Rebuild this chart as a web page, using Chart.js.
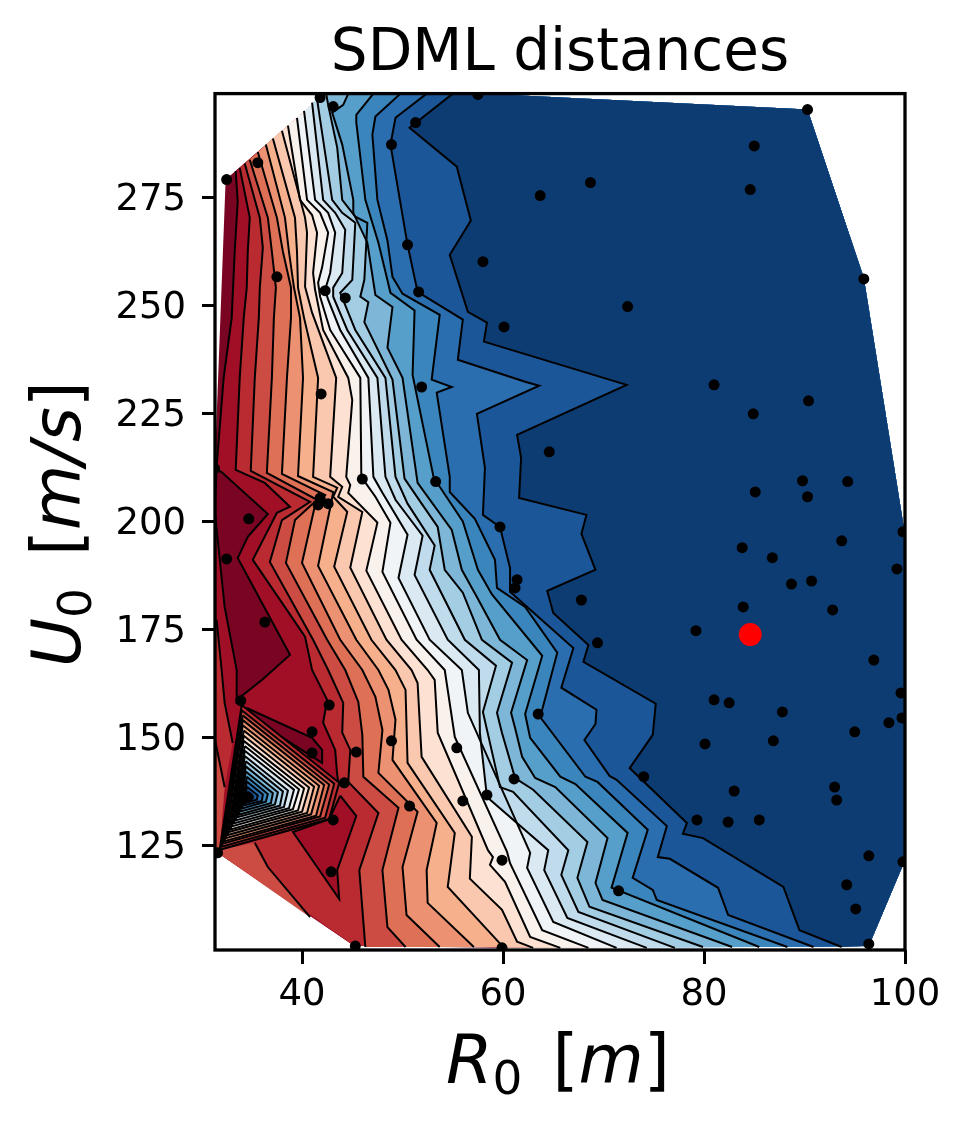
<!DOCTYPE html>
<html>
<head>
<meta charset="utf-8">
<title>SDML distances</title>
<script src="https://cdn.jsdelivr.net/npm/chart.js@4/dist/chart.umd.min.js"></script>
<style>
  html, body { margin: 0; padding: 0; background: #fff; }
  canvas { display: block; }
</style>
</head>
<body>
<canvas id="chart" width="969" height="1131"></canvas>
<script>
// Tick labels
const xTicks = [40, 60, 80, 100];
const yTicks = [125, 150, 175, 200, 225, 250, 275];

// Sampled runs, R0 and U0
const runR0 = [41.8,43.1,51.3,57.5,90.3,48.9,85.0,84.6,63.7,68.7,32.5,35.6,50.5,58.0,37.5,95.9,42.3,44.3,51.6,72.4,60.1,81.0,51.9,41.9,90.4,84.9,64.6,46.0,53.3,85.1,89.8,94.3,90.3,59.7,41.8,41.6,42.6,34.7,31.3,32.5,83.8,86.8,93.7,99.8,99.2,90.7,88.7,61.4,61.2,67.8,83.9,92.8,79.2,69.4,36.3,96.9,81.0,82.5,87.8,99.6,99.7,98.4,95.0,63.5,80.1,86.9,33.9,42.7,41.0,41.0,45.4,48.9,55.4,74.0,61.1,58.4,56.0,83.0,93.0,93.2,44.2,50.7,34.6,43.1,79.3,82.4,85.5,96.4,99.8,59.9,71.5,94.2,95.1,96.4,59.9,45.3,31.6,42.9];
const runU0 = [298.2,296.1,292.4,298.9,295.4,287.3,287.0,276.9,275.5,278.5,279.2,283.1,264.1,260.2,256.7,256.2,253.5,251.8,253.2,249.8,245.1,231.7,231.2,229.6,228.0,225.0,216.2,209.9,209.3,206.9,209.5,209.3,205.8,198.8,205.5,203.9,204.2,200.7,212.3,191.4,194.0,191.7,195.6,197.7,189.1,186.3,185.6,186.6,184.7,181.9,180.3,179.6,174.8,172.0,176.8,168.0,158.8,158.1,156.0,160.4,154.6,153.5,151.4,155.5,148.6,149.3,158.6,157.6,151.4,146.5,146.7,149.3,147.7,141.0,140.5,136.8,135.4,137.7,138.6,135.6,139.6,134.2,136.3,131.0,131.0,130.5,131.0,122.7,121.3,121.7,114.6,116.0,110.4,102.3,101.4,101.8,123.4,119.0];
const targetR0 = [84.6];
const targetU0 = [173.9];

// Colours of the filled bands, low to high
const bandColors = ['#7a0522','#a10f26','#b92b30','#cc4b43','#de7056','#ec9272','#f6b08c','#fac8ae','#fde1d2','#f8f1ec','#f0f4f6','#dae9f2','#c0dcec','#a3cde3','#7db6d7','#569fca','#3a85bc','#2b6eb0','#1b5698','#0c3c72'];

// Outline of the sampled region
const hull = [[32.4,279.2],[42.3,299.1],[57.7,299.1],[90.3,295.4],[95.9,256.5],[100,197],[100,121.7],[96.4,101.8],[59.9,101.4],[45.2,101.8],[31.6,123.4],[31.3,123.6],[31.3,212]];
const rimRight = [[96.4,101.8],[100,121.7],[100,197],[95.9,256.5],[90.3,295.4],[57.7,299.1],[42.3,299.1]];

// Contour lines, each as [R0, U0] from top to bottom
const line1 = [[33.4,281.2],[33.6,274.1],[33.3,262.5],[33.0,247.2],[32.2,233.3],[31.5,212.7]];
const line2 = [[33.8,281.9],[34.8,270.4],[34.6,262.5],[34.5,254.2],[34.2,247.2],[33.8,233.3],[33.4,212],[36.3,209],[38.8,203.5],[37.5,202.1],[35.1,191.2],[40.3,173.4],[41,165.7],[42.5,158.8],[42.1,153.5],[43.3,147.2],[43.5,141.4],[43.6,139.8]];
const line3 = [[34.3,282.9],[35.8,270.4],[36.1,263.4],[35.8,254.2],[35.7,247.2],[35.3,233.3],[34.9,211.8],[40.8,204.6],[38,200.4],[36.8,190.7],[41.1,172.7],[42.6,165.7],[44.1,158.1],[44,151.2],[44.8,147.2],[44.6,139.8],[47.6,132.6],[45.7,119.4],[46.3,101.6]];
const line4 = [[34.8,283.8],[36.6,270.4],[37,262.5],[37.4,254.2],[37.2,247.2],[37,233.3],[36.5,211.3],[41.5,205.1],[39.3,200.4],[38.4,190.5],[42.5,172.7],[44.3,165.7],[45.6,158.3],[46,150.7],[46.1,141],[49.6,133.8],[48,119.4],[48.5,106.2],[50.3,101.6]];
const line5 = [[35.6,285.6],[37.5,270.4],[38.1,262.5],[38.9,254.2],[38.9,247.2],[38.5,233.3],[38,211.1],[42.3,206.2],[41.3,203.9],[40,190.5],[43.8,172.7],[46,165.7],[47.3,159.5],[48,151.8],[47.6,141.9],[51.5,132.9],[50,120.1],[50.4,109],[53.7,101.6]];
const line6 = [[36.4,287.3],[38.3,270.4],[38.7,262.5],[39.2,254.2],[39.8,247.2],[40.1,233.3],[39.6,210.6],[43.1,206.9],[42.8,203.2],[41.6,189.8],[45.4,172.7],[47.6,165.7],[48.6,161.1],[49.3,154.2],[49,144.9],[53.4,130.3],[52.4,119.4],[52.5,111.8],[57.1,101.6]];
const line7 = [[37.1,288.7],[39.3,270.4],[39.5,262.5],[39.6,254.2],[40.2,247.2],[41.6,233.3],[41.1,210.4],[43.5,207.9],[43.1,205.8],[44.5,202.3],[43.2,189.6],[46.9,172.7],[49.3,165.7],[50.3,161.1],[50.5,144.2],[55.2,128],[54.5,115.5],[60.1,101.4]];
const line8 = [[38,290.5],[40.3,270.4],[40.5,266.9],[40.3,254.4],[41,248.4],[43.4,233.3],[42.8,210.4],[44,208.1],[43.6,205.8],[46,202.3],[44.8,189.4],[48.4,172.7],[50.9,165.7],[51.5,162.7],[51.9,145.6],[56.9,127.1],[56.7,117.4],[59.9,110.2],[61.4,102.8],[63,101.4]];
const line9 = [[38.6,291.7],[39.8,274.5],[41,271],[41.5,266.9],[41.1,257.6],[41.3,253.7],[42.1,244.4],[44.6,233.3],[45,228.2],[44.4,210.4],[44.8,208.5],[44.6,206.7],[47.5,199.8],[46.4,188.7],[49.9,172.7],[52.5,165.7],[53.2,163.4],[53.5,151.2],[58.5,124],[59,122.4],[58.7,120.6],[60.2,116.7],[62.7,103.9],[65.7,101.4]];
const line10 = [[39.5,293.5],[40.5,274.5],[41.8,271.5],[42.6,266.9],[42,258.9],[41.6,255.3],[41.8,252.1],[42.8,244.4],[45.8,233.3],[45.9,210.4],[47.3,205.8],[48.8,199.8],[48,188.4],[51.4,172.7],[54.2,165.7],[55.2,150.2],[60.4,123.6],[60.7,121],[63.9,105.5],[68.5,101.4]];
const line11 = [[40.2,295.1],[41.3,274.5],[42.6,271.5],[43.3,266.9],[42.8,257.6],[42.3,253.7],[42.6,251.4],[43.8,244.4],[46.6,233.3],[47.1,210.4],[48,206.7],[50.5,197],[49.6,187],[52.7,172.7],[55.9,165.7],[56.5,155.8],[62.7,123.4],[62.4,119.9],[65,107.4],[71.3,101.4]];
const line12 = [[41,297],[42.1,274.5],[43.3,271.5],[44.3,267.6],[44,257.6],[43.1,254.2],[43.1,252.1],[44.5,244.4],[47.5,233.3],[48.3,210.4],[49.3,205.1],[52,196.8],[51.2,187.7],[54.5,172.7],[57.6,165.7],[57.7,151.1],[58.4,136.3],[64.5,124],[64.1,119.4],[66.4,108.3],[74.3,101.4]];
const line13 = [[41.5,297.7],[43,274.5],[44,271.5],[45.3,269.2],[45,256],[43.8,253],[45.3,244.4],[48.3,233.3],[49.3,210.4],[50.5,204.2],[53.2,194.5],[52.7,188.9],[56.2,172.7],[59.3,166.7],[58,156],[59.7,138.6],[61,137.5],[66.5,124],[65.8,118.3],[67.5,109.7],[77.1,101.4]];
const line14 = [[42.4,299.1],[42.6,296.5],[43.5,286.6],[44,274.5],[45.3,270.6],[46.5,269.2],[46.2,256],[45.8,252.1],[46.6,250.8],[46.2,246.2],[49,232.9],[50.2,210],[51.9,204.2],[53.5,198.8],[54.2,188.9],[56,183.6],[57.9,172.7],[60.9,167.4],[59.4,155.8],[59.9,151.1],[61.2,140.7],[63,138],[68.4,125.9],[67.4,117.6],[68.6,110.9],[79.9,101.6]];
const line15 = [[44.6,299.1],[44.1,296.5],[43,294.7],[44,287.3],[45.1,274.5],[45.1,271.5],[46.5,264.6],[47.3,252.5],[49,249.7],[48.5,240.3],[50,233.3],[51.5,209],[54.9,198.1],[55.9,188.9],[57.4,182.6],[59.7,172.7],[62.4,168],[60.8,155.8],[61.2,152.3],[61.9,145.6],[63.2,140.7],[65.2,138.6],[70.4,126.8],[69.2,116.4],[69.9,112.5],[82.8,101.6]];
const line16 = [[47.1,299.1],[45.4,294.2],[45.4,292.4],[46.3,274.5],[47.6,264.6],[48.5,255.9],[48.8,253],[51.2,248.9],[51,234],[53.1,210.2],[56,200.1],[57.5,188.9],[58.9,183.2],[63.9,169],[62.2,155.5],[62.7,150],[65.7,141],[67.2,139.3],[72.4,128],[70.8,115.3],[85.5,101.6]];
const line17 = [[49.8,299.1],[47.3,293.8],[47,289.6],[47.5,274.5],[48.5,265.1],[49,256.7],[50,252.8],[53.7,247.9],[52.9,232.9],[54.9,231.2],[53.4,229.9],[54.7,210.4],[54.7,206.9],[57.2,200.7],[59.2,191.2],[59.4,184.7],[62.2,180.3],[65.4,169.7],[63.7,154.8],[68.2,141],[69.4,139.8],[74.4,128.7],[72.9,117.6],[74.9,114.8],[75.3,112.5],[88.3,101.6]];
const line18 = [[52.4,299.1],[49.3,293.5],[48.8,287.3],[50.5,264.1],[51.5,253.2],[56,246.8],[55.5,237.5],[62.2,232.4],[63.6,231.5],[57.4,225],[58.2,212.5],[58,201.6],[59.7,198.8],[60.7,189.3],[60.7,183.8],[67,170.8],[65.8,161.6],[69.3,156.5],[69.2,153.2],[68.1,149.5],[70.6,141.2],[71.3,140.3],[76.3,129.6],[75.4,122.4],[76.6,122],[81.4,115.3],[82.4,109],[90.9,101.6]];
const line19 = [[55,299.1],[50.7,291.2],[55.4,282.2],[56.8,269.7],[54.7,261.8],[56.5,248.6],[58.4,246.1],[58.1,241.7],[72.3,231.7],[61.4,220.1],[61.8,214.8],[61.6,205.5],[68.3,201.6],[67.8,197.2],[69.2,188.9],[64.4,184],[65,178.9],[68.5,171.5],[68,167.6],[75.2,157.9],[74.9,150.7],[72.6,143],[78.3,130.3],[77.9,127.8],[79.9,126.8],[87.9,115.5],[89.5,105.5],[93.7,101.6]];
const contourLines = [line1,line2,line3,line4,line5,line6,line7,line8,line9,line10,line11,line12,line13,line14,line15,line16,line17,line18,line19];

// Closed patches on the left side
const darkPatch = [[31.5,212],[32,211.5],[36.6,201.8],[34.6,196.5],[33.6,191.6],[38.8,169.2],[36,163.4],[33.9,159.5],[33.5,158.4],[33.5,165.7],[32.3,180.3],[31.3,202.8]];
const leftPatch = [[31.5,177.3],[32,165.7],[32.3,158.1],[33.1,148.8],[32.3,138.6],[31.8,124.1],[31.3,124.1],[31.3,177.3]];
const cornerPatch = [[31.3,150],[32.3,138.6],[31.8,124.1],[31.3,124.1]];
const lowPatch = [[31.8,124.1],[35.3,125.7],[36.6,120.1],[40.8,108.5],[31.6,123.4]];
const lowLine = [[35.3,125.7],[36.6,120.1],[40.8,108.5]];
const lowRedPatch = [[43.8,136.6],[45.4,131.9],[43.5,119.4],[43.7,112.7],[39.1,128.2],[42.7,131.2]];
const spotPatch = [[34.5,156.9],[41,150.0],[42,147.2],[42,144.2],[34.5,155.3]];

// Sharp dip near R0 = 35, U0 = 136, corners of each nested contour
const dipTop = [[34.0,157.6],[34.0,156.4],[34.1,155.2],[34.1,154.1],[34.1,152.9],[34.2,151.7],[34.2,150.5],[34.2,149.3],[34.3,148.1],[34.3,147.0],[34.3,145.8],[34.4,144.6],[34.4,143.4],[34.4,142.2],[34.5,141.0],[34.5,139.9],[34.5,138.7],[34.6,137.5]];
const dipRight = [[43.7,139.6],[43.2,139.4],[42.7,139.2],[42.2,139.1],[41.7,138.9],[41.2,138.7],[40.7,138.5],[40.2,138.3],[39.7,138.1],[39.2,138.0],[38.6,137.8],[38.1,137.6],[37.6,137.4],[37.1,137.2],[36.6,137.0],[36.1,136.9],[35.6,136.7],[35.1,136.5]];
const dipLow = [[42.7,131.2],[42.3,131.5],[41.8,131.8],[41.4,132.0],[40.9,132.3],[40.5,132.6],[40.0,132.9],[39.6,133.2],[39.1,133.5],[38.7,133.7],[38.2,134.0],[37.8,134.3],[37.3,134.6],[36.9,134.9],[36.4,135.2],[36.0,135.4],[35.5,135.7],[35.1,136.0]];
const dipLeft = [[31.8,124.1],[32.0,124.8],[32.1,125.5],[32.3,126.1],[32.4,126.8],[32.6,127.5],[32.7,128.2],[32.9,128.8],[33.0,129.5],[33.2,130.2],[33.4,130.9],[33.5,131.6],[33.7,132.2],[33.8,132.9],[34.0,133.6],[34.1,134.3],[34.3,134.9],[34.4,135.6]];

const LINE_WIDTH = 2;
const FONT = '"DejaVu Sans"';

function toPoints(pairs) {
    return pairs.map(p => ({ x: p[0], y: p[1] }));
}

const datasets = [];

function addFill(pairs, color) {
    datasets.push({
        data: toPoints(pairs),
        showLine: true,
        fill: 'shape',
        backgroundColor: color,
        borderWidth: 0,
        borderColor: color,
        pointRadius: 0,
        tension: 0
    });
}

function addLine(pairs) {
    datasets.push({
        data: toPoints(pairs),
        showLine: true,
        fill: false,
        borderColor: '#000',
        borderWidth: LINE_WIDTH,
        borderJoinStyle: 'miter',
        pointRadius: 0,
        tension: 0
    });
}

// Painted from low to high, every band covers what lies on its high side
addFill(hull, bandColors[0]);
addFill(line1.concat([[31.3,123.6],[31.6,123.4],[45.2,101.8]], rimRight), bandColors[1]);
addFill(darkPatch, bandColors[0]);
addFill(line2.concat([[31.8,124.1],[45.2,101.8]], rimRight), bandColors[2]);
addFill(leftPatch, bandColors[2]);
addFill(cornerPatch, bandColors[3]);
addFill(lowPatch, bandColors[3]);
addFill(lowRedPatch, bandColors[1]);
contourLines.forEach((line, i) => {
    if (i >= 2) addFill(line.concat(rimRight), bandColors[i + 1]);
});
addFill(spotPatch, bandColors[0]);

contourLines.forEach(line => addLine(line));
addLine(darkPatch.concat([darkPatch[0]]));
addLine(leftPatch.slice(0, 4));
addLine(cornerPatch.slice(0, 2));
addLine(lowLine);
addLine(lowRedPatch.concat([lowRedPatch[0]]));
addLine(spotPatch.concat([spotPatch[0]]));

dipTop.forEach((top, i) => {
    const ring = [top, dipRight[i], dipLow[i], dipLeft[i], top];
    addFill(ring, bandColors[i + 2]);
    addLine(ring);
});

datasets.push({
    data: runR0.map((r, i) => ({ x: r, y: runU0[i] })),
    showLine: false,
    pointRadius: 5.5,
    pointBackgroundColor: '#000',
    pointBorderWidth: 0,
    clip: 0
});
datasets.push({
    data: targetR0.map((r, i) => ({ x: r, y: targetU0[i] })),
    showLine: false,
    pointRadius: 11.5,
    pointBackgroundColor: '#ff0000',
    pointBorderWidth: 0,
    clip: 0
});

// Index 0 is painted last, so turn the list round
datasets.reverse();

// Axis titles with an upright subscript, the title options cannot mix styles
function drawMathLabel(ctx, parts) {
    let x = 0;
    parts.forEach(part => {
        const style = part.italic ? 'italic ' : '';
        ctx.font = style + part.size + 'px ' + FONT;
        ctx.fillText(part.text, x + (part.gap || 0), part.drop || 0);
        x += (part.gap || 0) + ctx.measureText(part.text).width;
    });
}

const xLabelParts = [
    { text: 'R', italic: true, size: 67 },
    { text: '0', size: 47, drop: 11 },
    { text: '[', size: 67, gap: 30 },
    { text: 'm', italic: true, size: 67 },
    { text: ']', size: 67 }
];
const yLabelParts = [
    { text: 'U', italic: true, size: 67 },
    { text: '0', size: 47, drop: 11 },
    { text: '[', size: 67, gap: 32 },
    { text: 'm/s', italic: true, size: 67 },
    { text: ']', size: 67 }
];

const frame = {
    id: 'frame',
    afterDraw(chart) {
        const { ctx, chartArea: a } = chart;
        ctx.save();
        ctx.strokeStyle = '#000';
        ctx.lineWidth = 3.3;
        ctx.strokeRect(a.left, a.top, a.right - a.left, a.bottom - a.top);

        ctx.fillStyle = '#000';
        ctx.textBaseline = 'alphabetic';
        ctx.textAlign = 'left';
        ctx.save();
        ctx.translate(446, 1083);
        drawMathLabel(ctx, xLabelParts);
        ctx.restore();
        ctx.save();
        ctx.translate(80, 667);
        ctx.rotate(-Math.PI / 2);
        drawMathLabel(ctx, yLabelParts);
        ctx.restore();
        ctx.restore();
    }
};

new Chart(document.getElementById('chart').getContext('2d'), {
    type: 'scatter',
    data: { datasets: datasets },
    plugins: [frame],
    options: {
        responsive: false,
        animation: false,
        layout: { padding: { right: 64 } },
        plugins: {
            legend: { display: false },
            tooltip: { enabled: false },
            title: {
                display: true,
                text: 'SDML distances',
                color: '#000',
                fullSize: false,
                font: { family: 'DejaVu Sans', size: 58, weight: 'normal', lineHeight: 1.2 },
                padding: { top: 20, bottom: 4 }
            }
        },
        scales: {
            x: {
                type: 'linear',
                min: 31.34,
                max: 100,
                afterBuildTicks: s => { s.ticks = xTicks.map(v => ({ value: v })); },
                afterFit: s => { s.height = 181; },
                border: { display: false },
                grid: { drawOnChartArea: false, tickLength: 14, tickWidth: 3, tickColor: '#000' },
                ticks: { color: '#000', padding: 9, maxRotation: 0, autoSkip: false, font: { family: 'DejaVu Sans', size: 37 } }
            },
            y: {
                type: 'linear',
                min: 100.9,
                max: 299.1,
                afterBuildTicks: s => { s.ticks = yTicks.map(v => ({ value: v })); },
                afterFit: s => { s.width = 215; },
                border: { display: false },
                grid: { drawOnChartArea: false, tickLength: 13, tickWidth: 3, tickColor: '#000' },
                ticks: { color: '#000', padding: 16, labelOffset: 3, autoSkip: false, font: { family: 'DejaVu Sans', size: 37 } }
            }
        }
    }
});
</script>
</body>
</html>
